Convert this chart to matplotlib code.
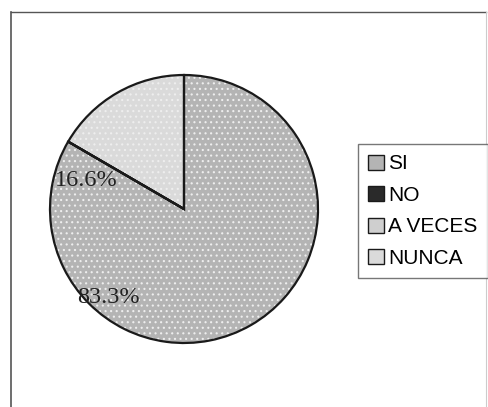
import numpy as np
import matplotlib.pyplot as plt
from matplotlib.lines import Line2D

categories = ["SI", "NO", "A VECES", "NUNCA"]
values = [83.3, 0.0, 0.0, 16.6]
colors = ["#b4b4b4", "#2a2a2a", "#cfcfcf", "#dadada"]
label_text = ["83.3%", "16.6%"]

plt.rcParams["hatch.linewidth"] = 0.8

W, H = 489, 407
fig = plt.figure(figsize=(W / 100, H / 100), dpi=100)

# pie axes: centre (184, 209) px, radius 134 px
cx, cy, r = 184, 209, 134
ax = fig.add_axes([(cx - r) / W, (H - cy - r) / H, 2 * r / W, 2 * r / H])

# fill, then dotted texture, then outline
ax.pie(values, colors=colors, startangle=90, counterclock=False,
       wedgeprops=dict(linewidth=0))
ax.pie(values, startangle=90, counterclock=False,
       wedgeprops=dict(fill=False, hatch="...", edgecolor="#eeeeee", linewidth=0))
ax.pie(values, startangle=90, counterclock=False,
       wedgeprops=dict(fill=False, edgecolor="#1a1a1a", linewidth=1.6))
ax.set_xlim(-1, 1)
ax.set_ylim(-1, 1)
ax.axis("off")

ax.text(-0.567, -0.657, label_text[0], family="Liberation Serif", fontsize=17.5,
        ha="center", va="center", color="#222222")
ax.text(-0.731, 0.216, label_text[1], family="Liberation Serif", fontsize=17.5,
        ha="center", va="center", color="#222222")

# legend
handles = [plt.Rectangle((0, 0), 1, 1, facecolor=c, edgecolor="#1a1a1a", lw=1.0)
           for c in colors]
leg = fig.legend(handles, categories, loc="upper left",
                 bbox_to_anchor=(358 / W, 1 - 144 / H), prop=dict(family="Liberation Sans", size=15),
                 frameon=True, fancybox=False, edgecolor="#555555", borderpad=0.5,
                 labelspacing=0.6, handlelength=0.75, handleheight=0.75,
                 handletextpad=0.2, borderaxespad=0)
leg.get_frame().set_linewidth(1.0)

# scanned page frame
fig.add_artist(Line2D([11 / W, 11 / W], [0, 1 - 12 / H], transform=fig.transFigure,
                      color="#555555", lw=1.2))
fig.add_artist(Line2D([11 / W, 486 / W], [1 - 12 / H, 1 - 12 / H], transform=fig.transFigure,
                      color="#555555", lw=1.0))
fig.add_artist(Line2D([486 / W, 486 / W], [0, 1 - 12 / H], transform=fig.transFigure,
                      color="#cccccc", lw=0.8))

fig.savefig("out.png", dpi=100)
